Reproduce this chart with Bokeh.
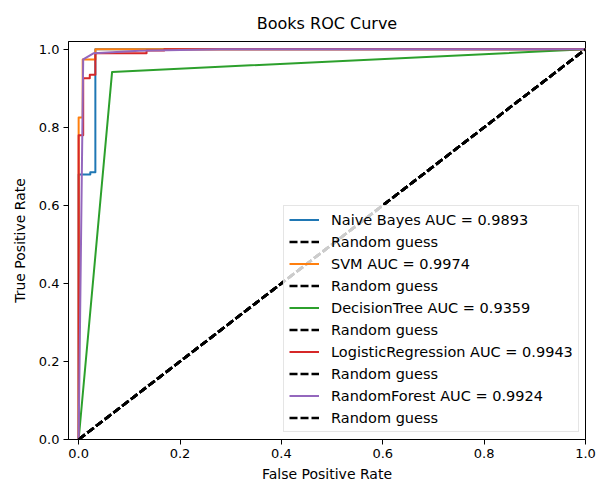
from bokeh.plotting import figure
from bokeh.models import Range1d, Legend, LegendItem, FixedTicker, NumeralTickFormatter
from bokeh.embed import file_html
from bokeh.resources import INLINE

# ROC data
nb_fpr = [0.0, 0.0, 0.023, 0.023, 0.033, 0.033, 1.0]
nb_tpr = [0.0, 0.679, 0.679, 0.685, 0.685, 1.0, 1.0]

svm_fpr = [0.0, 0.0, 0.008, 0.008, 0.033, 0.033, 1.0]
svm_tpr = [0.0, 0.825, 0.825, 0.974, 0.974, 1.0, 1.0]

dt_fpr = [0.0, 0.066, 1.0]
dt_tpr = [0.0, 0.942, 1.0]

lr_fpr = [0.0, 0.0, 0.009, 0.009, 0.022, 0.022, 0.033, 0.033, 0.134, 0.134, 0.169, 0.169, 1.0]
lr_tpr = [0.0, 0.78, 0.78, 0.926, 0.926, 0.935, 0.935, 0.99, 0.99, 0.997, 0.997, 1.0, 1.0]

rf_fpr = [0.0, 0.009, 0.03, 0.12, 0.28, 1.0]
rf_tpr = [0.0, 0.974, 0.99, 0.996, 1.0, 1.0]

guess_x = [0.0, 1.0]
guess_y = [0.0, 1.0]

models = ["Naive Bayes", "SVM", "DecisionTree", "LogisticRegression", "RandomForest"]
aucs = ["0.9893", "0.9974", "0.9359", "0.9943", "0.9924"]
colors = ["#1f77b4", "#ff7f0e", "#2ca02c", "#d62728", "#9467bd"]
curves = [(nb_fpr, nb_tpr), (svm_fpr, svm_tpr), (dt_fpr, dt_tpr), (lr_fpr, lr_tpr), (rf_fpr, rf_tpr)]

ticks = [0.0, 0.2, 0.4, 0.6, 0.8, 1.0]

FONT = "DejaVu Sans"

p = figure(width=596, height=484, output_backend="svg", toolbar_location=None,
           x_range=Range1d(-0.02, 1.0), y_range=Range1d(0.0, 1.02),
           min_border_left=68, min_border_right=11, min_border_top=41, min_border_bottom=45,
           title="Books ROC Curve")

p.title.align = "center"
p.title.text_font = FONT
p.title.text_font_size = "16px"
p.title.text_font_style = "normal"
p.title.text_color = "black"
p.title.standoff = 18

p.xgrid.visible = False
p.ygrid.visible = False
p.outline_line_color = "black"
p.outline_line_width = 1
p.outline_line_alpha = 1.0

for ax in (p.xaxis[0], p.yaxis[0]):
    ax.ticker = FixedTicker(ticks=ticks)
    ax.formatter = NumeralTickFormatter(format="0.0")
    ax.major_label_text_font = FONT
    ax.major_label_text_font_size = "13px"
    ax.major_label_text_color = "black"
    ax.axis_label_text_font = FONT
    ax.axis_label_text_font_size = "14px"
    ax.axis_label_text_font_style = "normal"
    ax.axis_label_text_color = "black"
    ax.axis_line_color = "black"
    ax.major_tick_line_color = "black"
    ax.major_tick_out = 5
    ax.major_tick_in = 0
    ax.minor_tick_line_color = None
    ax.major_label_standoff = 4

p.xaxis[0].axis_label = "False Positive Rate"
p.yaxis[0].axis_label = "True Positive Rate"
p.xaxis[0].axis_label_standoff = 5
p.yaxis[0].axis_label_standoff = 8

items = []
for name, auc, col, (fx, fy) in zip(models, aucs, colors, curves):
    r = p.line(fx, fy, line_color=col, line_width=2, line_join="round")
    g = p.line(guess_x, guess_y, line_color="black", line_width=2.6, line_dash="8 3")
    items.append(LegendItem(label=f"{name} AUC = {auc}", renderers=[r]))
    items.append(LegendItem(label="Random guess", renderers=[g]))

legend = Legend(items=items, location=(215, 7))
legend.label_text_font = FONT
legend.label_text_font_size = "14.5px"
legend.label_text_color = "black"
legend.glyph_width = 30
legend.glyph_height = 17
legend.label_height = 17
legend.spacing = 5
legend.padding = 5
legend.margin = 0
legend.label_standoff = 12
legend.border_line_color = "#cccccc"
legend.border_line_width = 1
legend.background_fill_color = "white"
legend.background_fill_alpha = 0.8
p.add_layout(legend)

open("out.html", "w").write(file_html(p, INLINE))
